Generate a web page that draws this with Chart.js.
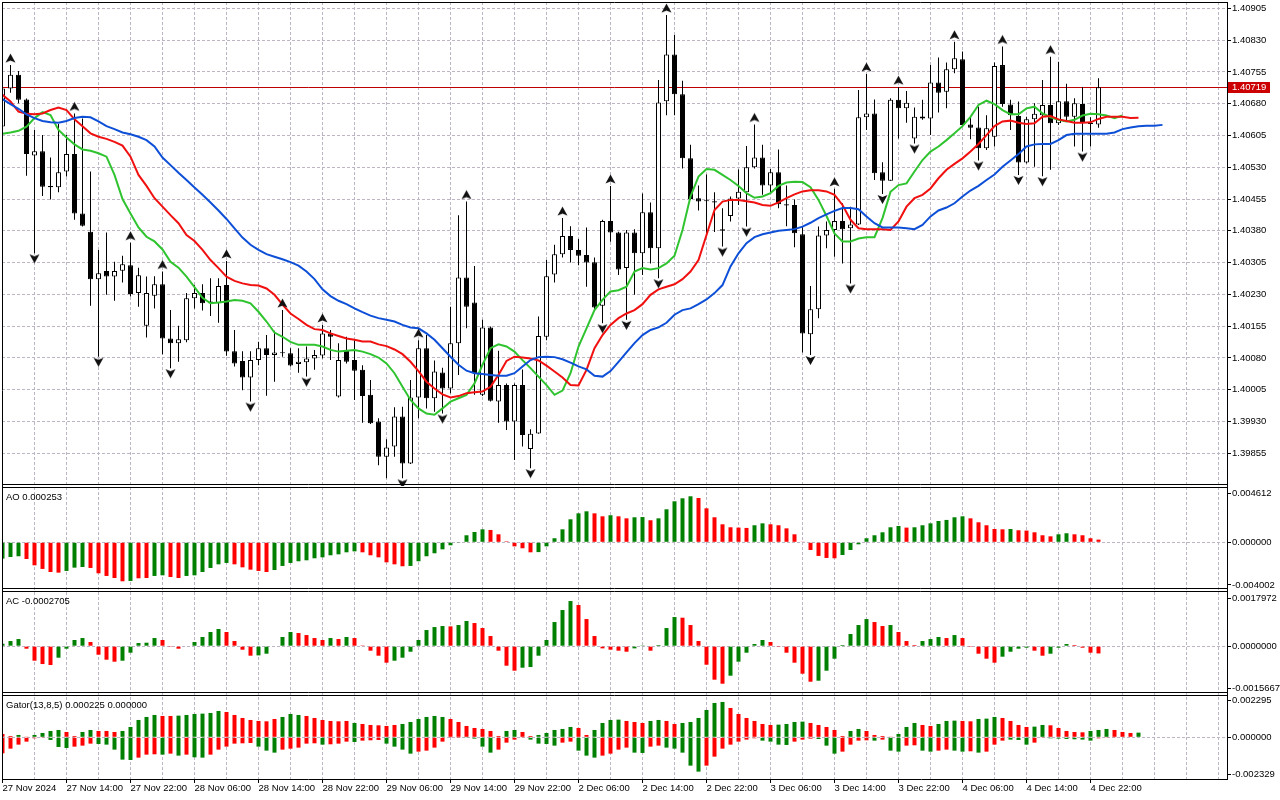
<!DOCTYPE html>
<html>
<head>
<meta charset="utf-8">
<title>USDCAD H1 - Alligator, Fractals, AO, AC, Gator</title>
<script src="https://cdn.jsdelivr.net/npm/chart.js@4.4.1/dist/chart.umd.min.js"></script>
<style>
  html, body { margin: 0; padding: 0; background: #fff; }
  #chart { display: block; }
</style>
</head>
<body>
<canvas id="chart" width="1280" height="800"></canvas>
<script>
// Hourly bars from 27 Nov 06:00 to 4 Dec 23:00, bar index = position on the x axis
const tickLabels = ['27 Nov 2024', '27 Nov 14:00', '27 Nov 22:00', '28 Nov 06:00', '28 Nov 14:00', '28 Nov 22:00',
    '29 Nov 06:00', '29 Nov 14:00', '29 Nov 22:00', '2 Dec 06:00', '2 Dec 14:00', '2 Dec 22:00',
    '3 Dec 06:00', '3 Dec 14:00', '3 Dec 22:00', '4 Dec 06:00', '4 Dec 14:00', '4 Dec 22:00'];

const opens = [1.40626,1.40716,1.40748,1.40690,1.40558,1.40568,1.40486,1.40483,1.40520,1.40561,
    1.40421,1.40378,1.40266,1.40285,1.40272,1.40286,1.40299,1.40233,1.40156,1.40227,
    1.40254,1.40126,1.40115,1.40122,1.40221,1.40233,1.40209,1.40209,1.40252,1.40096,
    1.40073,1.40034,1.40075,1.40103,1.40087,1.40091,1.40091,1.40066,1.40070,1.40079,
    1.40086,1.40138,1.39989,1.40099,1.40075,1.40052,1.39993,1.39930,1.39847,1.39871,
    1.39942,1.39831,1.39987,1.40103,1.39985,1.40046,1.40008,1.40115,1.40270,1.40211,
    1.39993,1.40152,1.39977,1.40016,1.39930,1.40016,1.39865,1.39902,1.40130,1.40277,
    1.40325,1.40368,1.40335,1.40323,1.40306,1.40203,1.40403,1.40376,1.40292,1.40376,
    1.40327,1.40424,1.40339,1.40686,1.40796,1.40702,1.40551,1.40457,1.40451,1.40450,
    1.40384,1.40415,1.40456,1.40471,1.40530,1.40553,1.40487,1.40518,1.40443,1.40441,
    1.40372,1.40136,1.40195,1.40369,1.40382,1.40403,1.40386,1.40395,1.40648,1.40657,
    1.40518,1.40498,1.40689,1.40669,1.40598,1.40650,1.40645,1.40730,1.40708,1.40761,
    1.40785,1.40631,1.40624,1.40575,1.40602,1.40771,1.40678,1.40651,1.40541,1.40643,
    1.40653,1.40677,1.40634,1.40686,1.40649,1.40679,1.40635,1.40631];

const highs = [1.40728,1.40771,1.40757,1.40692,1.40618,1.40606,1.40553,1.40632,1.40606,1.40657,
    1.40645,1.40520,1.40335,1.40376,1.40307,1.40321,1.40352,1.40293,1.40272,1.40273,
    1.40284,1.40193,1.40156,1.40233,1.40252,1.40254,1.40268,1.40268,1.40309,1.40146,
    1.40096,1.40096,1.40118,1.40134,1.40144,1.40193,1.40103,1.40103,1.40107,1.40099,
    1.40158,1.40146,1.40115,1.40130,1.40122,1.40063,1.40028,1.39938,1.39888,1.39964,
    1.39965,1.40028,1.40122,1.40134,1.40074,1.40057,1.40201,1.40417,1.40449,1.40297,
    1.40170,1.40154,1.40097,1.40020,1.40020,1.40053,1.39912,1.40178,1.40311,1.40347,
    1.40410,1.40391,1.40361,1.40388,1.40317,1.40406,1.40486,1.40378,1.40382,1.40384,
    1.40468,1.40447,1.40736,1.40889,1.40842,1.40734,1.40583,1.40487,1.40513,1.40471,
    1.40433,1.40461,1.40525,1.40580,1.40631,1.40583,1.40526,1.40572,1.40487,1.40454,
    1.40390,1.40250,1.40390,1.40402,1.40479,1.40445,1.40437,1.40712,1.40750,1.40690,
    1.40542,1.40693,1.40719,1.40710,1.40671,1.40689,1.40771,1.40789,1.40777,1.40826,
    1.40803,1.40651,1.40673,1.40653,1.40777,1.40815,1.40689,1.40685,1.40649,1.40681,
    1.40736,1.40791,1.40779,1.40727,1.40693,1.40719,1.40648,1.40740];

const lows = [1.40614,1.40706,1.40681,1.40510,1.40327,1.40462,1.40454,1.40471,1.40508,1.40406,
    1.40390,1.40203,1.40083,1.40229,1.40215,1.40258,1.40225,1.40201,1.40128,1.40197,
    1.40089,1.40056,1.40071,1.40117,1.40197,1.40192,1.40179,1.40163,1.40085,1.40060,
    1.40004,1.39977,1.40063,1.39991,1.40024,1.40083,1.40060,1.40045,1.40036,1.40052,
    1.40079,1.40075,1.39987,1.40067,1.39981,1.39927,1.39924,1.39827,1.39796,1.39847,
    1.39796,1.39830,1.39938,1.39961,1.39953,1.39949,1.39997,1.40040,1.40150,1.39993,
    1.39990,1.39977,1.39927,1.39910,1.39839,1.39871,1.39820,1.39901,1.40122,1.40258,
    1.40317,1.40305,1.40299,1.40248,1.40193,1.40162,1.40354,1.40276,1.40170,1.40229,
    1.40276,1.40303,1.40268,1.40653,1.40653,1.40527,1.40453,1.40428,1.40374,1.40377,
    1.40343,1.40402,1.40441,1.40390,1.40527,1.40465,1.40468,1.40433,1.40391,1.40341,
    1.40093,1.40087,1.40174,1.40339,1.40319,1.40303,1.40256,1.40394,1.40618,1.40500,
    1.40467,1.40498,1.40598,1.40635,1.40586,1.40642,1.40606,1.40659,1.40669,1.40752,
    1.40626,1.40596,1.40546,1.40571,1.40579,1.40673,1.40618,1.40512,1.40539,1.40531,
    1.40509,1.40524,1.40630,1.40638,1.40579,1.40567,1.40579,1.40623];

const closes = [1.40716,1.40748,1.40689,1.40561,1.40568,1.40484,1.40483,1.40518,1.40561,1.40421,
    1.40392,1.40266,1.40280,1.40272,1.40285,1.40301,1.40231,1.40275,1.40233,1.40254,
    1.40126,1.40115,1.40124,1.40221,1.40233,1.40209,1.40213,1.40250,1.40095,1.40067,
    1.40034,1.40075,1.40103,1.40087,1.40093,1.40092,1.40062,1.40071,1.40079,1.40087,
    1.40138,1.40130,1.40075,1.40071,1.40050,1.39990,1.39926,1.39847,1.39869,1.39942,
    1.39831,1.39987,1.40103,1.39985,1.40048,1.40008,1.40115,1.40270,1.40201,1.40044,
    1.40152,1.39979,1.40016,1.39930,1.40016,1.39898,1.39901,1.40132,1.40273,1.40325,
    1.40368,1.40335,1.40321,1.40305,1.40199,1.40403,1.40376,1.40289,1.40376,1.40327,
    1.40424,1.40339,1.40683,1.40796,1.40702,1.40551,1.40455,1.40449,1.40450,1.40447,
    1.40380,1.40456,1.40472,1.40530,1.40553,1.40487,1.40518,1.40443,1.40440,1.40374,
    1.40138,1.40195,1.40369,1.40382,1.40403,1.40384,1.40395,1.40648,1.40657,1.40516,
    1.40498,1.40689,1.40669,1.40682,1.40649,1.40645,1.40730,1.40706,1.40761,1.40787,
    1.40630,1.40623,1.40575,1.40622,1.40769,1.40679,1.40653,1.40541,1.40643,1.40656,
    1.40677,1.40634,1.40686,1.40649,1.40681,1.40634,1.40632,1.40719];

// Alligator lines (already shifted forward: jaw 8, teeth 5, lips 3 bars)
const jaw = [1.40691,1.40679,1.40668,1.40655,1.40646,1.40639,1.40636,1.40635,1.40639,1.40646,
    1.40649,1.40648,1.40638,1.40627,1.40620,1.40612,1.40608,1.40602,1.40594,1.40579,
    1.40553,1.40535,1.40517,1.40500,1.40482,1.40465,1.40447,1.40428,1.40408,1.40386,
    1.40364,1.40347,1.40335,1.40325,1.40319,1.40313,1.40306,1.40298,1.40284,1.40266,
    1.40242,1.40226,1.40215,1.40207,1.40197,1.40188,1.40180,1.40174,1.40170,1.40166,
    1.40158,1.40152,1.40150,1.40138,1.40123,1.40103,1.40083,1.40064,1.40050,1.40044,
    1.40042,1.40040,1.40038,1.40038,1.40044,1.40060,1.40075,1.40082,1.40083,1.40082,
    1.40077,1.40069,1.40060,1.40053,1.40038,1.40036,1.40049,1.40071,1.40093,1.40115,
    1.40134,1.40146,1.40152,1.40163,1.40182,1.40193,1.40197,1.40207,1.40218,1.40233,
    1.40252,1.40296,1.40327,1.40351,1.40365,1.40372,1.40376,1.40380,1.40382,1.40384,
    1.40390,1.40399,1.40410,1.40419,1.40427,1.40434,1.40434,1.40431,1.40414,1.40398,
    1.40388,1.40388,1.40388,1.40386,1.40384,1.40394,1.40414,1.40428,1.40435,1.40445,
    1.40461,1.40475,1.40486,1.40500,1.40513,1.40531,1.40546,1.40561,1.40579,1.40584,
    1.40585,1.40585,1.40594,1.40606,1.40609,1.40609,1.40609,1.40609,1.40609,1.40612,
    1.40620,1.40624,1.40627,1.40628,1.40628,1.40630];

const teeth = [1.40701,1.40685,1.40661,1.40656,1.40655,1.40657,1.40665,1.40671,1.40665,1.40643,
    1.40627,1.40610,1.40602,1.40597,1.40590,1.40581,1.40555,1.40512,1.40486,1.40457,
    1.40437,1.40417,1.40398,1.40370,1.40356,1.40335,1.40311,1.40292,1.40272,1.40262,
    1.40256,1.40252,1.40251,1.40244,1.40229,1.40206,1.40185,1.40172,1.40158,1.40148,
    1.40146,1.40138,1.40132,1.40126,1.40123,1.40119,1.40119,1.40112,1.40108,1.40100,
    1.40089,1.40071,1.40049,1.40024,1.40008,1.39994,1.39987,1.39990,1.39997,1.39999,
    1.40001,1.40012,1.40040,1.40073,1.40083,1.40081,1.40079,1.40074,1.40062,1.40048,
    1.40034,1.40016,1.40015,1.40052,1.40103,1.40134,1.40158,1.40174,1.40185,1.40193,
    1.40207,1.40229,1.40242,1.40248,1.40254,1.40266,1.40284,1.40311,1.40370,1.40429,
    1.40449,1.40453,1.40453,1.40450,1.40447,1.40441,1.40439,1.40447,1.40457,1.40466,
    1.40473,1.40476,1.40476,1.40473,1.40465,1.40441,1.40406,1.40386,1.40384,1.40384,
    1.40384,1.40382,1.40402,1.40437,1.40457,1.40465,1.40480,1.40504,1.40524,1.40538,
    1.40551,1.40567,1.40585,1.40606,1.40627,1.40638,1.40640,1.40635,1.40632,1.40634,
    1.40649,1.40651,1.40643,1.40639,1.40635,1.40635,1.40636,1.40644,1.40649,1.40649,
    1.40649,1.40646,1.40647];

const lips = [1.40609,1.40612,1.40616,1.40626,1.40646,1.40660,1.40653,1.40618,1.40600,1.40584,
    1.40572,1.40569,1.40563,1.40555,1.40512,1.40455,1.40421,1.40388,1.40366,1.40355,
    1.40336,1.40307,1.40293,1.40272,1.40247,1.40222,1.40209,1.40211,1.40213,1.40217,
    1.40215,1.40209,1.40189,1.40166,1.40140,1.40130,1.40118,1.40111,1.40111,1.40111,
    1.40107,1.40099,1.40095,1.40097,1.40099,1.40095,1.40089,1.40081,1.40067,1.40044,
    1.40012,1.39981,1.39961,1.39949,1.39946,1.39961,1.39977,1.39985,1.39993,1.40020,
    1.40064,1.40103,1.40112,1.40107,1.40095,1.40075,1.40056,1.40036,1.40016,1.39993,
    1.40003,1.40044,1.40107,1.40150,1.40193,1.40217,1.40237,1.40240,1.40248,1.40284,
    1.40292,1.40289,1.40292,1.40303,1.40321,1.40382,1.40461,1.40508,1.40526,1.40524,
    1.40512,1.40500,1.40486,1.40469,1.40458,1.40461,1.40469,1.40486,1.40494,1.40496,
    1.40495,1.40483,1.40453,1.40415,1.40374,1.40355,1.40355,1.40362,1.40365,1.40365,
    1.40410,1.40472,1.40488,1.40492,1.40520,1.40547,1.40567,1.40579,1.40594,1.40610,
    1.40627,1.40649,1.40677,1.40687,1.40679,1.40665,1.40655,1.40655,1.40669,1.40673,
    1.40657,1.40648,1.40642,1.40638,1.40642,1.40652,1.40656,1.40655,1.40652,1.40646,
    1.40652];

// bars carrying a fractal
const fractalUp = [1, 9, 16, 20, 28, 35, 40, 52, 58, 70, 76, 83, 94, 104, 108, 112, 119, 125, 131];
const fractalDown = [4, 12, 21, 31, 38, 50, 55, 66, 75, 78, 82, 90, 93, 101, 106, 110, 114, 122, 127, 130, 135];

const aoValues = [-0.00153,-0.00138,-0.00131,-0.00157,-0.00216,-0.00250,-0.00279,-0.00285,-0.00269,-0.00238,
    -0.00232,-0.00241,-0.00291,-0.00316,-0.00335,-0.00366,-0.00363,-0.00338,-0.00335,-0.00316,
    -0.00310,-0.00326,-0.00335,-0.00316,-0.00310,-0.00279,-0.00241,-0.00207,-0.00194,-0.00207,
    -0.00235,-0.00257,-0.00269,-0.00279,-0.00260,-0.00222,-0.00194,-0.00178,-0.00169,-0.00150,
    -0.00141,-0.00122,-0.00113,-0.00094,-0.00085,-0.00094,-0.00122,-0.00141,-0.00188,-0.00207,
    -0.00225,-0.00222,-0.00178,-0.00131,-0.00103,-0.00066,-0.00028,-0.00003,0.00066,0.00097,
    0.00122,0.00116,0.00075,0.00009,-0.00038,-0.00056,-0.00094,-0.00092,-0.00038,0.00038,
    0.00122,0.00216,0.00272,0.00291,0.00272,0.00244,0.00254,0.00244,0.00225,0.00235,
    0.00237,0.00207,0.00225,0.00310,0.00385,0.00413,0.00432,0.00416,0.00319,0.00235,
    0.00169,0.00141,0.00138,0.00135,0.00160,0.00178,0.00169,0.00160,0.00131,0.00075,
    0.00006,-0.00072,-0.00128,-0.00147,-0.00150,-0.00119,-0.00072,-0.00019,0.00038,0.00066,
    0.00094,0.00141,0.00153,0.00138,0.00141,0.00160,0.00178,0.00200,0.00210,0.00235,
    0.00244,0.00225,0.00188,0.00160,0.00125,0.00122,0.00125,0.00113,0.00110,0.00094,
    0.00066,0.00056,0.00075,0.00085,0.00075,0.00066,0.00038,0.000253];
const aoColors = ('gggrrrrrgggrrrrrgrrggrrggggggrrrrrgggggggggggrrrrrr' +
    'ggggggggggrrrrrrgggggggrrgrrggrgggggrrrrrrrggrrrrrrrrr' +
    'ggggggggrgggggggrrrrrgrrrrrggrrrr').split('');

const acValues = [0.000093,0.000193,0.000268,-0.000093,-0.000542,-0.000667,-0.000704,-0.00043,-0.000093,0.000231,
    0.000305,0.000156,-0.000318,-0.000505,-0.000579,-0.000542,-0.000243,0.000118,0.000131,0.000305,
    0.000231,-0.000031,-0.000093,-0.000019,0.000156,0.000343,0.00053,0.000642,0.00053,0.000193,
    -0.000131,-0.000355,-0.000343,-0.00028,0.000019,0.000343,0.00053,0.000492,0.000417,0.000305,
    0.000231,0.000305,0.000268,0.000343,0.000305,0.000031,-0.000168,-0.000355,-0.000617,-0.000542,
    -0.00043,-0.000206,0.000231,0.000604,0.000716,0.000754,0.000741,0.000791,0.000941,0.000866,
    0.000679,0.00038,-0.000168,-0.000729,-0.000916,-0.000804,-0.000779,-0.000355,0.000231,0.000903,
    0.001352,0.001688,0.001539,0.001015,0.00038,-0.000081,-0.000131,-0.000168,-0.000206,-0.000081,
    0.000006,-0.000168,0.000044,0.000679,0.00109,0.001065,0.000791,0.000193,-0.000692,-0.001252,
    -0.001402,-0.001103,-0.000579,-0.000243,0.000081,0.000231,0.000156,-0.000006,-0.000243,-0.000617,
    -0.001028,-0.001327,-0.00129,-0.000916,-0.000467,0.000044,0.000455,0.000791,0.001015,0.000903,
    0.000754,0.000791,0.00053,0.000193,0.000044,0.000193,0.000268,0.000343,0.000305,0.000417,
    0.000305,-0.000006,-0.00028,-0.000467,-0.000617,-0.000392,-0.000206,-0.000093,-0.000056,-0.000168,
    -0.000355,-0.00028,-0.000056,0.000081,0.000044,-0.000056,-0.000243,-0.0002705];
const acColors = ('gggrrrrggggrrrrgggggrrrgggggrrrrgggggrrrrgrgrrrrrgggggggrggrrrrrr' +
    'gggggggrrrrrrrggrgggrrrrrrgggggrrrrrrgggggggrrgrrrgggrgrrrrrggggrrgggrrrr').split('');

const gatorUpper = [0.00021,0.000084,0.000147,0.000042,0.000147,0.000273,0.000399,0.000462,0.000336,0.000084,
    0.000336,0.000462,0.000399,0.000399,0.000336,0.000399,0.000651,0.001092,0.001281,0.001407,
    0.001344,0.001344,0.001365,0.001407,0.00147,0.001491,0.001533,0.001659,0.001596,0.001407,
    0.001218,0.001092,0.001029,0.001008,0.001155,0.001281,0.00147,0.001407,0.001344,0.001218,
    0.001092,0.001029,0.001008,0.001029,0.000903,0.00084,0.000777,0.000756,0.000714,0.000777,
    0.00084,0.000966,0.001155,0.001281,0.001344,0.001281,0.001155,0.000966,0.000714,0.000588,
    0.000525,0.000399,0.000084,0.000399,0.000462,0.000336,0.000084,0.000147,0.000273,0.000462,
    0.000525,0.000651,0.000588,0.000147,0.000462,0.000903,0.001092,0.001113,0.001029,0.000966,
    0.000903,0.001029,0.001092,0.001029,0.00084,0.000903,0.000966,0.001218,0.001722,0.002163,
    0.002226,0.001848,0.00147,0.001218,0.001029,0.00084,0.000777,0.000798,0.00084,0.000966,
    0.000987,0.000903,0.000777,0.000651,0.000462,0.000084,0.000399,0.000525,0.000399,0.000147,
    0.000084,0.000042,0.00021,0.000651,0.000903,0.000777,0.000714,0.00084,0.001029,0.00105,
    0.001029,0.001008,0.001155,0.001176,0.001281,0.001218,0.001029,0.000777,0.000651,0.000672,
    0.000777,0.000756,0.000588,0.000399,0.000336,0.000315,0.000399,0.000462,0.000525,0.000462,
    0.000336,0.000273,0.000294];
const gatorLower = [-0.001008,-0.000714,-0.000462,-0.000273,-0.000063,-0.000021,-0.000168,-0.000609,-0.000672,-0.000588,
    -0.000525,-0.000399,-0.00042,-0.000462,-0.000777,-0.001407,-0.001428,-0.001281,-0.001092,-0.001071,
    -0.001092,-0.001029,-0.001155,-0.001092,-0.00126,-0.001281,-0.001092,-0.000777,-0.000588,-0.000399,
    -0.000378,-0.000357,-0.000588,-0.00084,-0.000966,-0.000777,-0.000714,-0.000651,-0.000399,-0.000378,
    -0.000462,-0.000441,-0.000399,-0.000273,-0.000294,-0.00021,-0.000189,-0.000168,-0.000399,-0.000588,
    -0.000777,-0.001029,-0.000903,-0.00084,-0.000651,-0.000273,-0.000021,-0.00001,-0.000042,-0.000084,
    -0.000588,-0.000966,-0.000777,-0.000336,-0.000147,-0.000042,-0.000147,-0.000399,-0.00042,-0.000525,
    -0.000336,-0.000273,-0.00084,-0.001155,-0.001281,-0.001155,-0.001029,-0.000777,-0.000651,-0.000966,
    -0.000987,-0.000588,-0.000525,-0.000651,-0.000714,-0.000966,-0.001785,-0.002163,-0.001785,-0.001218,
    -0.000714,-0.000462,-0.000273,-0.000147,-0.000063,-0.00021,-0.000273,-0.000462,-0.000483,-0.000273,
    -0.000147,-0.000084,-0.000105,-0.000525,-0.001029,-0.000903,-0.000462,-0.00021,-0.000189,-0.00021,
    -0.000147,-0.00084,-0.000903,-0.000525,-0.000504,-0.00084,-0.000903,-0.00084,-0.000777,-0.00084,
    -0.000903,-0.000882,-0.000966,-0.000903,-0.000462,-0.00021,-0.000147,-0.000168,-0.000462,-0.000336,
    -0.000021,-0.000063,-0.000084,-0.000105,-0.000126,-0.000147,-0.00021,-0.000063,-0.000021,-0.000021,
    0];
const gatorUpperColors = ('rrgrggggrrggrrrgggggrrggggggrrrrrrrgggrrrrrrgrrrrrggggggrrrrrrrggrrggg' +
    'ggrrggggrrrggrrggggggrrrrrrggggrrrrrggrrrrgggrrgggrrgggrrrrggrrrrrgggrrrg').split('');
const gatorLowerColors = ('rrrrrrgggrrrgggggrrrgrgrggrrrrrrgggrrrrrgrrrgrrrggggrrrrrrggggrrrrgggg' +
    'rrgggrrrrggrrgggggrrrrrrrggggrrrgggrrrrgrggrrggrrggrgrrrgggrrggggggrrrr').split('');

const priceTicks = [1.39855, 1.39930, 1.40005, 1.40080, 1.40155, 1.40230, 1.40305, 1.40380,
    1.40455, 1.40530, 1.40605, 1.40680, 1.40755, 1.40830, 1.40905];
const aoTicks = [-0.004002, 0, 0.004612];
const acTicks = [-0.0015667, 0, 0.0017972];
const gatorTicks = [-0.002329, 0, 0.002295];
const paneTitles = ['AO 0.000253', 'AC -0.0002705', 'Gator(13,8,5) 0.000225 0.000000'];

// ---- styling ----
const FONT = { family: "'Liberation Sans', Arial, sans-serif", size: 9.5 };
const GRID = '#bdb5c4';
const UP = '#008000';
const DOWN = '#ff0000';
const CLEAR = 'rgba(0,0,0,0)';

const bars = opens.map((_, i) => i);
const toColors = codes => codes.map(c => c === 'g' ? UP : DOWN);

// arrow glyph for the fractals; the image is centred on the high / low,
// the arrow itself is drawn a few pixels above (up) or below (down)
function fractalArrow(up) {
    const c = document.createElement('canvas');
    c.width = 13;
    c.height = 30;
    const g = c.getContext('2d');
    const cy = up ? 8 : 20.5;
    const d = up ? 1 : -1;
    g.beginPath();
    g.moveTo(6.5, cy - 4.5 * d);
    g.lineTo(11.5, cy + 4.5 * d);
    g.lineTo(6.5, cy + 2.5 * d);
    g.lineTo(1.5, cy + 4.5 * d);
    g.closePath();
    g.fillStyle = '#111';
    g.fill();
    return c;
}

function histogram(values, colors, axis) {
    return {
        type: 'bar',
        data: values.map((v, i) => ({ x: i, y: v })),
        backgroundColor: toColors(colors),
        barThickness: 4,
        grouped: false,
        inflateAmount: 0,
        yAxisID: axis,
        order: 5
    };
}

function alligatorLine(values, color) {
    return {
        type: 'line',
        data: values.map((v, i) => ({ x: i, y: v })),
        borderColor: color,
        borderWidth: 2,
        pointRadius: 0,
        tension: 0,
        yAxisID: 'yMain',
        order: 10
    };
}

const datasets = [
    // wicks
    {
        type: 'bar',
        data: bars.map(i => ({ x: i, y: [lows[i], highs[i]] })),
        backgroundColor: '#000',
        barThickness: 1,
        grouped: false,
        inflateAmount: 0,
        yAxisID: 'yMain',
        order: 30
    },
    // bodies
    {
        type: 'bar',
        data: bars.map(i => ({ x: i, y: [Math.min(opens[i], closes[i]), Math.max(opens[i], closes[i])] })),
        backgroundColor: bars.map(i => closes[i] > opens[i] ? '#fff' : '#000'),
        borderColor: '#000',
        borderWidth: 1,
        borderSkipped: false,
        barThickness: 5,
        minBarLength: 1,
        grouped: false,
        inflateAmount: 0,
        yAxisID: 'yMain',
        order: 29
    },
    alligatorLine(jaw, '#0d4fd6'),
    alligatorLine(teeth, '#f01010'),
    alligatorLine(lips, '#2fc42f'),
    {
        type: 'line',
        data: fractalUp.map(i => ({ x: i, y: highs[i] })),
        showLine: false,
        pointStyle: fractalArrow(true),
        pointRadius: 6,
        yAxisID: 'yMain',
        order: 1
    },
    {
        type: 'line',
        data: fractalDown.map(i => ({ x: i, y: lows[i] })),
        showLine: false,
        pointStyle: fractalArrow(false),
        pointRadius: 6,
        yAxisID: 'yMain',
        order: 1
    },
    histogram(aoValues, aoColors, 'yAO'),
    histogram(acValues, acColors, 'yAC'),
    histogram(gatorUpper, gatorUpperColors, 'yGator'),
    histogram(gatorLower, gatorLowerColors, 'yGator')
];

function paneAxis(weight, min, max, tickValues, digits, zeroOnly) {
    return {
        type: 'linear',
        position: 'right',
        stack: 'panes',
        stackWeight: weight,
        min: min,
        max: max,
        afterBuildTicks: s => { s.ticks = tickValues.map(v => ({ value: v })); },
        afterFit: s => {
            s.width = 53;
            s.paddingTop = 0;
            s.paddingBottom = 0;
        },
        ticks: {
            autoSkip: false,
            padding: 1,
            color: '#000',
            font: FONT,
            callback: v => v.toFixed(digits)
        },
        grid: {
            color: c => (!zeroOnly || (c.tick && c.tick.value === 0)) ? GRID : CLEAR,
            tickColor: '#000',
            tickLength: 4,
            drawTicks: true
        },
        border: { display: true, color: '#000', dash: [3, 2] }
    };
}

// bid line, frame, pane separators and pane captions
const panePlugin = {
    id: 'panes',
    beforeDatasetsDraw(chart) {
        const { ctx, chartArea, scales } = chart;
        const py = Math.round(scales.yMain.getPixelForValue(closes[closes.length - 1])) + 0.5;
        ctx.save();
        ctx.strokeStyle = '#c00000';
        ctx.lineWidth = 1;
        ctx.beginPath();
        ctx.moveTo(chartArea.left, py);
        ctx.lineTo(chartArea.right, py);
        ctx.stroke();
        ctx.restore();
    },
    afterDraw(chart) {
        const { ctx, chartArea, scales } = chart;
        const fontStr = `${FONT.size}px ${FONT.family}`;
        ctx.save();
        ctx.strokeStyle = '#000';
        ctx.lineWidth = 1;
        const hline = (y) => {
            ctx.beginPath();
            ctx.moveTo(chartArea.left, y);
            ctx.lineTo(chartArea.right, y);
            ctx.stroke();
        };
        hline(chartArea.top + 0.5);
        ctx.beginPath();
        ctx.moveTo(chartArea.left + 0.5, chartArea.top);
        ctx.lineTo(chartArea.left + 0.5, chartArea.bottom);
        ctx.stroke();
        const panes = [scales.yAO, scales.yAC, scales.yGator];
        panes.forEach(p => {
            const b = Math.round(p.top);
            hline(b - 1.5);
            hline(b + 1.5);
        });

        ctx.font = fontStr;
        ctx.fillStyle = '#000';
        ctx.textBaseline = 'alphabetic';
        ctx.textAlign = 'left';
        panes.forEach((p, k) => ctx.fillText(paneTitles[k], 6, Math.round(p.top) + 14));

        // current price tag on the scale
        const last = closes[closes.length - 1];
        const py = Math.round(scales.yMain.getPixelForValue(last));
        ctx.fillStyle = '#cc0000';
        ctx.fillRect(chartArea.right + 1, py - 5, 42, 11);
        ctx.fillStyle = '#fff';
        ctx.textBaseline = 'middle';
        ctx.fillText(last.toFixed(5), chartArea.right + 5, py + 0.5);
        ctx.restore();
    }
};

new Chart(document.getElementById('chart'), {
    type: 'line',
    data: { datasets: datasets },
    options: {
        responsive: false,
        animation: false,
        devicePixelRatio: 1,
        events: [],
        layout: { autoPadding: false, padding: { left: 2, top: 2, right: 0, bottom: 0 } },
        plugins: {
            legend: { display: false },
            tooltip: { enabled: false }
        },
        scales: {
            x: {
                type: 'linear',
                position: 'bottom',
                min: -0.0625,
                max: 153.0625,
                offset: false,
                afterBuildTicks: s => {
                    const t = [];
                    for (let v = 0; v <= 152; v += 4) t.push({ value: v });
                    s.ticks = t;
                },
                afterFit: s => {
                    s.height = 21;
                    s.paddingLeft = 0;
                    s.paddingRight = 0;
                },
                ticks: {
                    autoSkip: false,
                    maxRotation: 0,
                    minRotation: 0,
                    align: 'start',
                    padding: 0,
                    color: '#000',
                    font: FONT,
                    callback: v => (v % 8 === 0 && tickLabels[v / 8]) ? tickLabels[v / 8] : ''
                },
                grid: {
                    offset: false,
                    color: GRID,
                    drawTicks: true,
                    tickLength: 4,
                    tickColor: c => (c.tick && c.tick.value % 8 === 0 && tickLabels[c.tick.value / 8]) ? '#000' : CLEAR
                },
                border: { display: true, color: '#000', dash: [3, 2] }
            },
            yMain: paneAxis(484, 1.3977789, 1.4091994, priceTicks, 5, false),
            yAO: paneAxis(104, -0.004479, 0.0052866, aoTicks, 6, true),
            yAC: paneAxis(104, -0.0017868, 0.0021008, acTicks, 7, true),
            yGator: paneAxis(85, -0.0026271, 0.0027279, gatorTicks, 6, true)
        }
    },
    plugins: [panePlugin]
});
</script>
</body>
</html>
